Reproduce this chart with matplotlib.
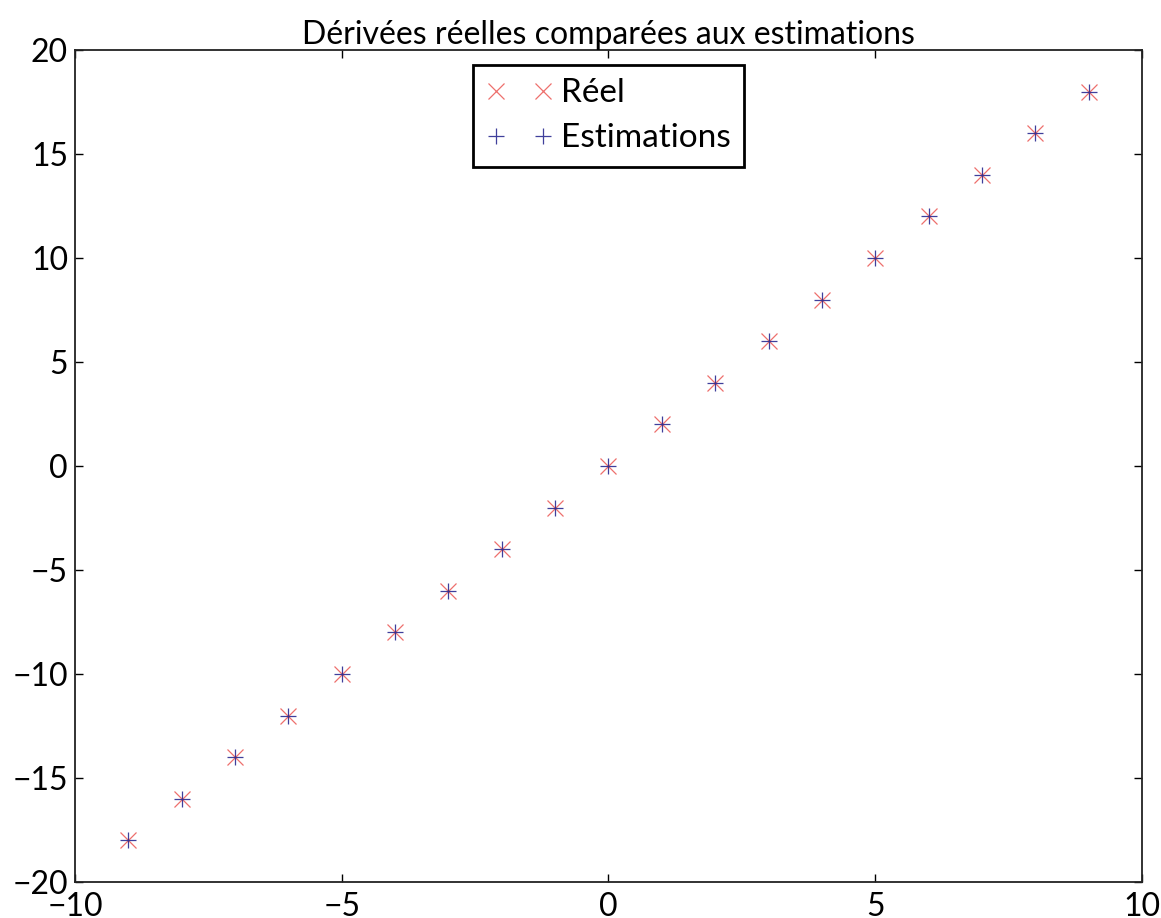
import numpy as np
import matplotlib
matplotlib.use('Agg')
import matplotlib.pyplot as plt

# points de la dérivée
x_vals = [-9, -8, -7, -6, -5, -4, -3, -2, -1, 0, 1, 2, 3, 4, 5, 6, 7, 8, 9]
reel = [-18, -16, -14, -12, -10, -8, -6, -4, -2, 0, 2, 4, 6, 8, 10, 12, 14, 16, 18]
estimations = [-18, -16, -14, -12, -10, -8, -6, -4, -2, 0, 2, 4, 6, 8, 10, 12, 14, 16, 18]

plt.rcParams['font.family'] = ['Lato', 'DejaVu Sans']
plt.rcParams['axes.unicode_minus'] = True

fig = plt.figure(figsize=(11.61, 9.18), dpi=100)
ax = fig.add_axes([0.0646, 0.0392, 0.919, 0.9063])

ax.plot(x_vals, reel, 'x', color='#e8403c', ms=11, mew=0.9, alpha=0.75, label='Réel')
ax.plot(x_vals, estimations, '+', color='#2a2a90', ms=11, mew=0.9, alpha=0.9, label='Estimations')

ax.set_xlim(-10, 10)
ax.set_ylim(-20, 20)
ax.set_xticks([-10, -5, 0, 5, 10])
ax.set_yticks([-20, -15, -10, -5, 0, 5, 10, 15, 20])
ax.tick_params(direction='in', top=True, right=True, length=6, width=1,
               labelsize=23, pad=5)
ax.tick_params(axis='x', pad=7)
for s in ax.spines.values():
    s.set_linewidth(1.3)
    s.set_color('#222222')

ax.set_title('Dérivées réelles comparées aux estimations', fontsize=23, pad=4)

leg = ax.legend(loc='upper center', numpoints=2, fontsize=24, fancybox=False,
                framealpha=1, edgecolor='black', handlelength=2.0,
                handletextpad=0.25, borderpad=0.4, labelspacing=0.45,
                borderaxespad=0.45)
leg.get_frame().set_linewidth(2)

fig.savefig('out.png', dpi=100)
